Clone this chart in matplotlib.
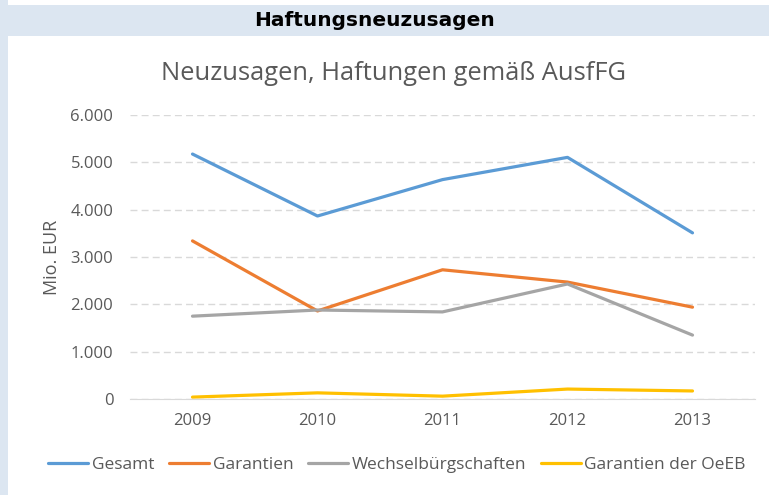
import matplotlib

matplotlib.use("Agg")

import matplotlib.pyplot as plt
from matplotlib.patches import Rectangle

years = ["2009", "2010", "2011", "2012", "2013"]
gesamt = [5175, 3866, 4635, 5105, 3510]
garantien = [3340, 1860, 2730, 2470, 1940]
wechsel = [1750, 1880, 1840, 2430, 1350]
oeeb = [40, 130, 60, 210, 170]

series = [
    ("Gesamt", gesamt, "#5b9bd5"),
    ("Garantien", garantien, "#ed7d31"),
    ("Wechselbürgschaften", wechsel, "#a5a5a5"),
    ("Garantien der OeEB", oeeb, "#ffc000"),
]

TEXT = "#595959"
plt.rcParams["font.family"] = ["Open Sans", "DejaVu Sans"]

W, H = 769, 495
fig = plt.figure(figsize=(W / 100, H / 100), dpi=100)
fig.patch.set_facecolor("white")

# light blue frame: header band and left strip
fig.patches.append(Rectangle((0, 1 - 36 / H), 1, 31 / H, transform=fig.transFigure,
                             facecolor="#dce6f1", edgecolor="none", zorder=0))
fig.patches.append(Rectangle((0, 0), 8 / W, 1, transform=fig.transFigure,
                             facecolor="#dce6f1", edgecolor="none", zorder=0))
fig.text(375 / W, 1 - 21 / H, "Haftungsneuzusagen", ha="center", va="center",
         fontsize=14.5, fontweight="bold", color="black",
         family=["DejaVu Sans"])

ax = fig.add_axes([130 / W, 1 - 399 / H, 625 / W, 284 / H])
x = range(len(years))
for name, vals, col in series:
    ax.plot(x, vals, color=col, linewidth=2.3, label=name, solid_capstyle="round")

ax.set_xlim(-0.5, len(years) - 0.5)
ax.set_ylim(0, 6000)
ax.set_yticks(range(0, 6001, 1000))
ax.set_yticklabels(["0", "1.000", "2.000", "3.000", "4.000", "5.000", "6.000"])
ax.set_xticks(list(x))
ax.set_xticklabels(years)
ax.tick_params(axis="both", length=0, colors=TEXT, labelsize=12)
ax.tick_params(axis="y", pad=12)
ax.tick_params(axis="x", pad=10)
ax.grid(axis="y", color="#d9d9d9", linestyle=(0, (5, 3)), linewidth=1)
ax.set_axisbelow(True)
for side in ["top", "right", "left"]:
    ax.spines[side].set_visible(False)
ax.spines["bottom"].set_color("#d9d9d9")

ax.set_ylabel("Mio. EUR", color=TEXT, fontsize=13, labelpad=7)
fig.text(394 / W, 1 - 73 / H, "Neuzusagen, Haftungen gemäß AusfFG", ha="center",
         va="center", fontsize=18.4, color=TEXT)

fig.legend(loc="center", bbox_to_anchor=(397 / W, 1 - 465 / H), ncol=4, frameon=False,
           fontsize=12.5, labelcolor=TEXT, handlelength=2.3, handletextpad=0.2,
           columnspacing=0.85)

fig.savefig("out.png", dpi=100)
